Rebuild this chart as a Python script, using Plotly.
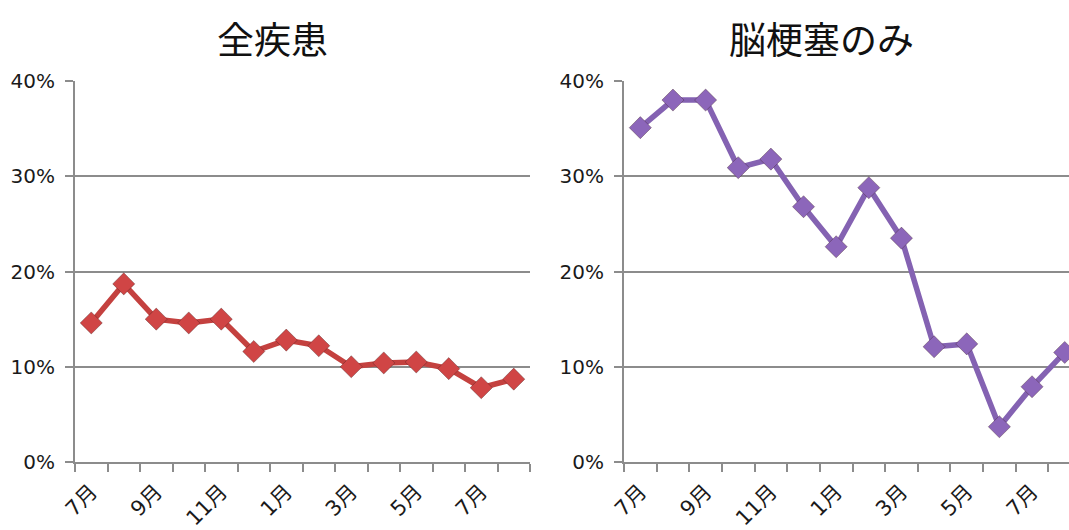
import plotly.graph_objects as go
import numpy as np

months = ["7月", "8月", "9月", "10月", "11月", "12月", "1月", "2月",
          "3月", "4月", "5月", "6月", "7月", "8月"]
all_diseases = [0.146, 0.187, 0.150, 0.146, 0.150, 0.116, 0.128, 0.122,
                0.100, 0.104, 0.105, 0.098, 0.078, 0.087]
infarction_only = [0.351, 0.380, 0.380, 0.309, 0.318, 0.268, 0.226, 0.288,
                   0.235, 0.121, 0.124, 0.037, 0.079, 0.115]
titles = ["全疾患", "脳梗塞のみ"]
y_ticks = [0, 0.1, 0.2, 0.3, 0.4]
y_ticktext = ["0%", "10%", "20%", "30%", "40%"]

W, H = 1069, 530
idx = np.arange(len(months))

fig = go.Figure()

series = [
    (all_diseases, "#C4413F", "#D04545", "x", "y"),
    (infarction_only, "#8462B2", "#8C66BA", "x2", "y2"),
]
for vals, lc, mc, xa, ya in series:
    fig.add_trace(go.Scatter(
        x=idx, y=vals, mode="lines+markers", xaxis=xa, yaxis=ya,
        line=dict(color=lc, width=5.5),
        marker=dict(symbol="diamond", size=17, color=mc,
                    line=dict(color="rgba(60,30,30,0.35)", width=1)),
        showlegend=False, cliponaxis=True,
    ))

grid = "#8C8C8C"
ytickfont = dict(family="DejaVu Sans, Noto Sans CJK JP", size=20, color="#1a1a1a")
xtickfont = dict(family="DejaVu Sans, Noto Sans CJK JP", size=21, color="#1a1a1a")

def xaxis(domain, rng):
    return dict(
        domain=domain, range=rng, showgrid=False, zeroline=False,
        showline=True, linecolor=grid, linewidth=2, automargin=False,
        tickmode="array", tickvals=idx[::2], ticktext=months[::2],
        ticks="", tickangle=-45, tickfont=xtickfont, ticklabelstandoff=7,
        minor=dict(tickmode="linear", tick0=-0.5, dtick=1, ticks="outside",
                   ticklen=8, tickwidth=2, tickcolor=grid, showgrid=False),
        fixedrange=True,
    )

def yaxis(domain, anchor):
    return dict(
        domain=domain, range=[0, 0.4], anchor=anchor, automargin=False,
        tickmode="array", tickvals=y_ticks, ticktext=y_ticktext,
        showgrid=True, gridcolor=grid, gridwidth=2,
        zeroline=False, showline=True, linecolor=grid, linewidth=2,
        ticks="outside", ticklen=8, tickwidth=2, tickcolor=grid,
        tickfont=ytickfont, ticklabelstandoff=6, fixedrange=True,
    )

ydom = [1 - 462 / H, 1 - 81 / H]
left_dom = [75 / W, 530 / W]
right_dom = [624 / W, 1.0]
step = (1081 - 624) / 14.0
right_max = -0.5 + (W - 624) / step

fig.update_layout(
    width=W, height=H, margin=dict(l=0, r=0, t=0, b=0, autoexpand=False),
    paper_bgcolor="white", plot_bgcolor="white",
    xaxis=dict(xaxis(left_dom, [-0.5, 13.5]), anchor="y"),
    yaxis=yaxis(ydom, "x"),
    xaxis2=dict(xaxis(right_dom, [-0.5, right_max]), anchor="y2"),
    yaxis2=yaxis(ydom, "x2"),
    annotations=[
        dict(text=titles[0], x=273 / W, y=1 - 38 / H, xref="paper", yref="paper",
             showarrow=False, xanchor="center", yanchor="middle",
             font=dict(family="Noto Sans CJK JP", size=37, color="#111")),
        dict(text=titles[1], x=821 / W, y=1 - 38 / H, xref="paper", yref="paper",
             showarrow=False, xanchor="center", yanchor="middle",
             font=dict(family="Noto Sans CJK JP", size=37, color="#111")),
    ],
)

fig.write_html("out.html", config={"displayModeBar": False})
